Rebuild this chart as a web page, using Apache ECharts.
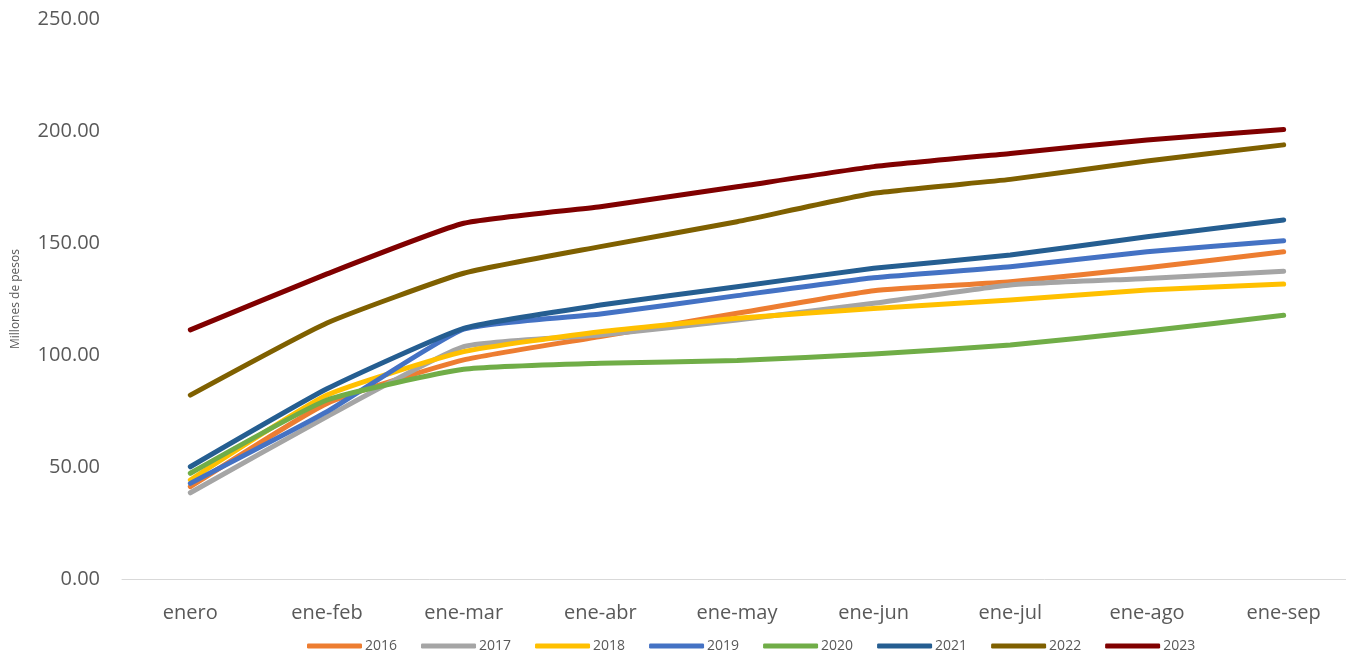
<!DOCTYPE html>
<html>
<head>
<meta charset="utf-8">
<script src="https://cdn.jsdelivr.net/npm/echarts@6/dist/echarts.min.js"></script>
<style>html,body{margin:0;padding:0;background:#fff;overflow:hidden}#c{width:1352px;height:653px}</style>
</head>
<body>
<div id="c"></div>
<script>
const categories = ['enero','ene-feb','ene-mar','ene-abr','ene-may','ene-jun','ene-jul','ene-ago','ene-sep'];
const yTicks = [0, 50, 100, 150, 200, 250];
const s2016 = [41.2, 78.4, 97.8, 108.2, 118.6, 128.7, 132.7, 139.0, 146.1];
const s2017 = [38.5, 72.5, 103.7, 108.9, 115.6, 123.1, 131.3, 134.2, 137.4];
const s2018 = [44.2, 82.1, 101.5, 110.4, 116.4, 120.8, 124.6, 129.0, 131.7];
const s2019 = [42.7, 74.7, 111.5, 118.3, 126.5, 134.5, 139.4, 146.1, 151.0];
const s2020 = [47.2, 79.9, 93.6, 96.3, 97.5, 100.4, 104.5, 110.7, 117.7];
const s2021 = [50.1, 84.9, 111.9, 122.3, 130.5, 138.7, 144.6, 152.8, 160.3];
const s2022 = [82.1, 114.3, 136.5, 148.4, 159.5, 172.2, 178.4, 186.6, 193.8];
const s2023 = [111.2, 136.2, 158.8, 166.2, 175.1, 184.1, 190.0, 196.0, 200.7];
const seriesNames = ['2016','2017','2018','2019','2020','2021','2022','2023'];
const seriesData = [s2016, s2017, s2018, s2019, s2020, s2021, s2022, s2023];
const colors = ['#ED7D31','#A5A5A5','#FFC000','#4472C4','#70AD47','#255E91','#7F6000','#800000'];

const chart = echarts.init(document.getElementById('c'), null, {renderer:'canvas'});
chart.setOption({
  animation: false,
  color: colors,
  grid: {left: 122, top: 19, right: 0, height: 560, containLabel: false},
  legend: {
    top: 638, left: 307, padding: 0,
    itemWidth: 55, itemHeight: 5, itemGap: 24,
    icon: 'roundRect',
    textStyle: {fontFamily: 'Open Sans', fontSize: 14, lineHeight: 16, color: '#595959', padding: [0,0,0,-2]},
    data: seriesNames
  },
  xAxis: {
    type: 'category', data: categories, boundaryGap: true,
    axisLine: {lineStyle: {color: '#D9D9D9', width: 1}},
    axisTick: {show: false},
    axisLabel: {fontFamily: 'Open Sans', fontSize: 20, color: '#595959', margin: 24}
  },
  yAxis: {
    type: 'value', min: yTicks[0], max: yTicks[yTicks.length-1], interval: 50,
    name: 'Millones de pesos', nameLocation: 'middle', nameGap: 100, nameRotate: 90,
    nameTextStyle: {fontFamily: 'Open Sans', fontSize: 12, color: '#595959'},
    axisLine: {show: false}, axisTick: {show: false}, splitLine: {show: false},
    axisLabel: {fontFamily: 'Open Sans', fontSize: 20, color: '#595959', margin: 22,
      formatter: v => v.toFixed(2)}
  },
  series: seriesNames.map((n, i) => ({
    name: n, type: 'line', data: seriesData[i], smooth: 0.15,
    showSymbol: false, symbol: 'none',
    lineStyle: {width: 5, color: colors[i], cap: 'round', join: 'round'},
    itemStyle: {color: colors[i]}
  }))
});
</script>
</body>
</html>
